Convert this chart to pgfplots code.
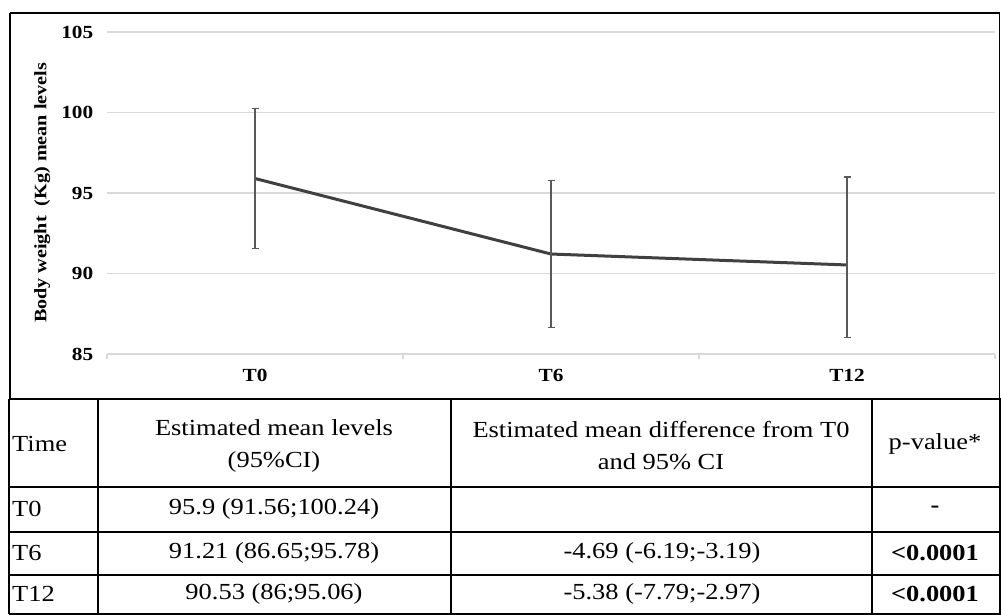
\documentclass[border=0pt]{standalone}
\usepackage{fontspec}
\setmainfont{Liberation Serif}[FakeStretch=1.15]
\usepackage{pgfplots}
\pgfplotsset{compat=1.18}
\definecolor{gridc}{HTML}{D9D9D9}
\definecolor{linec}{HTML}{404040}
\definecolor{errc}{HTML}{595959}
\begin{document}
\begin{tikzpicture}[x=1pt,y=1pt]
\path[use as bounding box] (0,0) rectangle (1001,614);
\begin{axis}[
  at={(107pt,260pt)}, anchor=south west,
  scale only axis, width=888pt, height=322pt,
  xmin=-0.5, xmax=2.5, ymin=85, ymax=105,
  axis line style={draw=none},
  xtick={0,1,2}, xticklabels={T0,T6,T12},
  major x tick style={draw=none},
  minor xtick={-0.5,0.5,1.5,2.5},
  minor tick length=5pt,
  minor x tick style={gridc, line width=1.2pt},
  tick align=outside, tick pos=bottom,
  ytick={85,90,95,100,105},
  ymajorgrids, grid style={gridc, line width=1.3pt},
  major y tick style={draw=none},
  /pgf/number format/assume math mode=true,
  yticklabel style={font=\bfseries\fontsize{18.5}{20}\selectfont, anchor=east, xshift=-6pt},
  xticklabel style={font=\bfseries\fontsize{18.5}{20}\selectfont, anchor=center, yshift=-17pt},
  ylabel={Body weight\ \ (Kg) mean levels},
  ylabel style={font=\bfseries\fontsize{17.5}{19}\selectfont, at={(axis description cs:-0.073,0.5)}, anchor=center},
  clip=false,
]
\addplot[color=linec, line width=3pt, mark=none,
  error bars/.cd, y dir=both, y explicit,
  error bar style={errc, line width=1.5pt},
  error mark options={rotate=90, mark size=3.5pt, errc, line width=1.5pt}]
  coordinates {
  (0,95.9) += (0,4.34) -= (0,4.34)
  (1,91.21) += (0,4.57) -= (0,4.56)
  (2,90.53) += (0,5.47) -= (0,4.5)
  };
\end{axis}
% frame of chart
\draw[line width=2.5pt] (10,601) -- (999.5,601);
\draw[line width=2.5pt] (10,601) -- (10,215);
\draw[line width=1.5pt] (999.5,601) -- (999.5,215);
% table
\draw[line width=2.5pt] (9,215) -- (1001,215);
\draw[line width=2pt] (9,127) -- (1001,127);
\draw[line width=2pt] (9,82) -- (1001,82);
\draw[line width=2pt] (9,39) -- (1001,39);
\draw[line width=2pt] (9,0.5) -- (1001,0.5);
\foreach \xx in {9,98,451,872,999.5} \draw[line width=2pt] (\xx,0) -- (\xx,215);
\begin{scope}[every node/.style={font=\fontsize{23}{32}\selectfont, inner sep=0pt}]
\node[anchor=west] at (12,170) {Time};
\node[align=center] at (274,168) {Estimated mean levels\\(95\%CI)};
\node[align=center] at (661,168) {Estimated mean difference from T0\\and 95\% CI};
\node at (935,170) {p-value*};
\node[anchor=west] at (12,105) {T0};
\node[anchor=west] at (12,61) {T6};
\node[anchor=west] at (12,20) {T12};
\node at (274,105) {95.9 (91.56;100.24)};
\node at (274,61) {91.21 (86.65;95.78)};
\node at (274,20) {90.53 (86;95.06)};
\node at (662,61) {-4.69 (-6.19;-3.19)};
\node at (662,20) {-5.38 (-7.79;-2.97)};
\node[font=\bfseries\fontsize{23}{28}\selectfont] at (935,105) {-};
\node[font=\bfseries\fontsize{23}{28}\selectfont] at (935,61) {<0.0001};
\node[font=\bfseries\fontsize{23}{28}\selectfont] at (935,20) {<0.0001};
\end{scope}
\end{tikzpicture}
\end{document}
